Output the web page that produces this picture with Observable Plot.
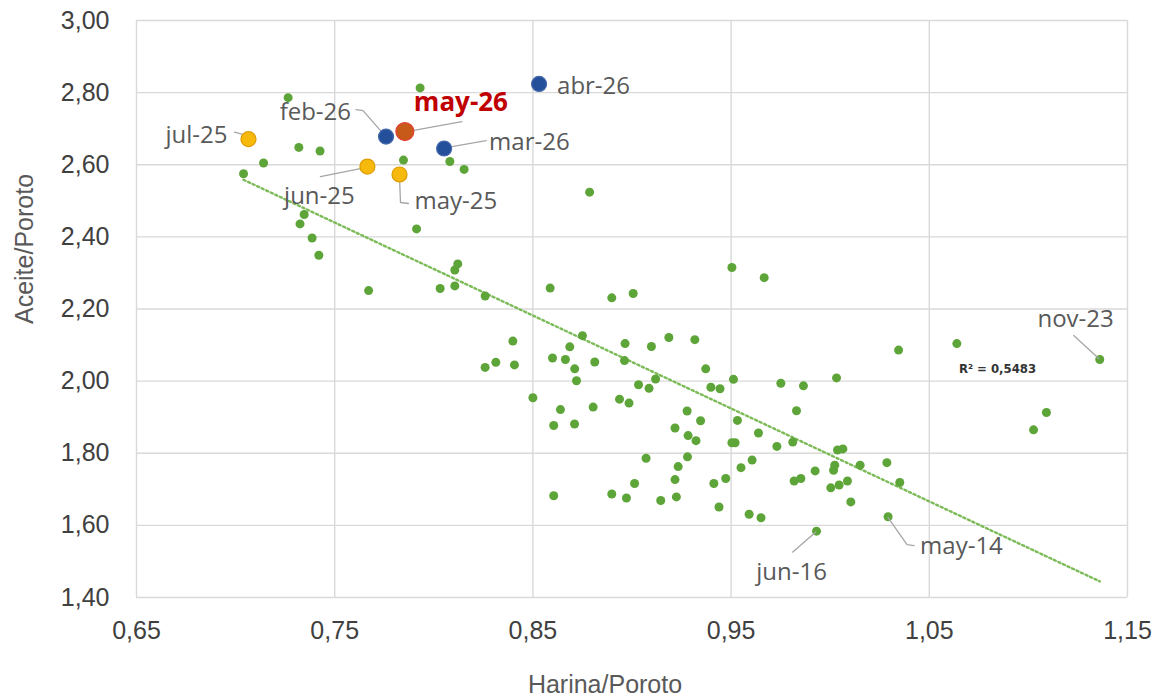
<!DOCTYPE html>
<html><head><meta charset="utf-8">
<script src="https://cdn.jsdelivr.net/npm/d3@7"></script>
<script src="https://cdn.jsdelivr.net/npm/@observablehq/plot@0.6"></script>
<style>html,body{margin:0;padding:0;background:#fff}</style>
</head><body><div id="chart"></div>
<script>
// ---- DATA ----
const harina = [0.7265,0.7931,0.7319,0.7426,0.7141,0.7040,0.7847,0.8081,0.8153,0.7346,0.7325,0.7386,0.7420,0.7913,0.8121,0.8106,0.7671,0.8032,0.8106,0.8259,0.8587,0.8786,0.8898,0.9006,0.9504,0.9667,0.8399,0.8259,0.8313,0.8407,0.8750,0.8686,0.8599,0.8664,0.8711,0.8720,0.8812,0.8965,0.8962,0.9098,0.9186,0.9317,0.9372,0.9398,0.9444,0.9512,0.9751,0.9119,0.9033,0.9086,0.8500,0.8639,0.8804,0.8937,0.8985,0.8605,0.8710,0.9278,0.9346,0.9532,0.9638,0.9830,0.9217,0.9283,0.9323,0.9504,0.9520,0.9731,0.9811,0.9071,0.9280,0.9233,0.9606,0.9550,0.9924,0.9818,0.9852,0.9217,0.9013,0.9413,0.9473,0.8898,0.8972,0.8605,0.9145,0.9224,0.9439,0.9591,0.9651,1.0345,1.0639,1.0032,0.9865,1.1091,1.1026,1.0037,1.0064,1.0023,1.0017,1.0151,1.0286,1.0351,1.0003,1.0045,1.0087,1.0104];
const aceite = [2.786,2.813,2.648,2.638,2.605,2.575,2.613,2.609,2.587,2.462,2.436,2.397,2.349,2.422,2.325,2.308,2.251,2.257,2.264,2.236,2.258,2.524,2.231,2.243,2.315,2.287,2.111,2.038,2.052,2.045,2.126,2.095,2.064,2.060,2.034,2.001,2.053,2.104,2.057,2.096,2.121,2.115,2.034,1.983,1.979,2.005,1.994,2.006,1.990,1.980,1.954,1.921,1.928,1.950,1.939,1.877,1.881,1.917,1.890,1.891,1.856,1.918,1.870,1.849,1.835,1.829,1.829,1.819,1.831,1.786,1.790,1.763,1.781,1.760,1.751,1.723,1.730,1.727,1.716,1.716,1.730,1.687,1.676,1.682,1.669,1.679,1.651,1.631,1.621,2.086,2.104,2.009,1.987,1.913,1.865,1.809,1.812,1.767,1.753,1.767,1.774,1.719,1.704,1.712,1.723,1.665];

// named historical points (same green series)
const namedNames  = ["jun-16","nov-23","may-14"];
const namedHarina = [0.9931,1.1360,1.0292];
const namedAceite = [1.584,2.060,1.624];

// highlighted recent months
const hiNames  = ["jul-25","jun-25","may-25","feb-26","mar-26","abr-26","may-26"];
const hiHarina = [0.7065,0.7665,0.7827,0.7759,0.8052,0.8531,0.7854];
const hiAceite = [2.671,2.595,2.573,2.678,2.645,2.824,2.692];
const hiGroup  = ["2025","2025","2025","2026","2026","2026","actual"];

const xTicks = [0.65,0.75,0.85,0.95,1.05,1.15];
const yTicks = [1.40,1.60,1.80,2.00,2.20,2.40,2.60,2.80,3.00];
const xTitle = "Harina/Poroto";
const yTitle = "Aceite/Poroto";
const r2Label = "R² = 0,5483";

// ---- LAYOUT / STYLE (pixel offsets relative to points) ----
const W = 1156, H = 699;
const M = {left:136, right:29, top:20, bottom:102};
const labelLayout = {
  "jul-25": {dx:-21, dy:-4,  anchor:"end",    leader:[[-14,-7],[-3,-4]]},
  "feb-26": {dx:-35, dy:-24, anchor:"end",    leader:[[-30,-27],[-23,-26],[-2,-2]]},
  "may-26": {dx:9,   dy:-29, anchor:"start",  leader:[[57,-10],[2,0]], bold:true},
  "mar-26": {dx:45,  dy:-6,  anchor:"start",  leader:[[42,-8],[2,-1]]},
  "abr-26": {dx:18,  dy:2,   anchor:"start",  leader:null},
  "jun-25": {dx:-48, dy:30,  anchor:"middle", leader:[[-47,10],[-2,1]]},
  "may-25": {dx:15,  dy:27,  anchor:"start",  leader:[[0,3],[1,28],[9,29]]},
  "nov-23": {dx:14,  dy:-40, anchor:"end",    leader:[[-26,-24],[-1,-1]]},
  "may-14": {dx:32,  dy:30,  anchor:"start",  leader:[[0,1],[19,28],[26,29]]},
  "jun-16": {dx:-25, dy:41,  anchor:"middle", leader:[[-24,21],[-1,1]]}
};
const colors = {
  green:"#5ea539", trend:"#7cbb58",
  "2025":{fill:"#f7b90c", stroke:"#dd9c00"},
  "2026":{fill:"#24509b", stroke:"#4668ab"},
  "actual":{fill:"#c75a18", stroke:"#e4403a"}
};
const radius = {"2025":7.5, "2026":7.5, "actual":9};

// ---- BUILD ----
const green = harina.map((h,i)=>({x:h, y:aceite[i]}))
  .concat(namedNames.map((n,i)=>({x:namedHarina[i], y:namedAceite[i], name:n})));
const hi = hiNames.map((n,i)=>({name:n, x:hiHarina[i], y:hiAceite[i], group:hiGroup[i]}));
const labeled = hi.concat(green.filter(d=>d.name));
const allPts = green.concat(hi);

const xDomain = [xTicks[0], xTicks[xTicks.length-1]];
const yDomain = [yTicks[0], yTicks[yTicks.length-1]];
const sx = d3.scaleLinear(xDomain, [M.left, W-M.right]);
const sy = d3.scaleLinear(yDomain, [H-M.bottom, M.top]);

const leaders = [];
labeled.forEach(d=>{
  const L = labelLayout[d.name];
  if (!L || !L.leader) return;
  L.leader.forEach(([ox,oy],k)=>{
    leaders.push({name:d.name, k, x:sx.invert(sx(d.x)+ox), y:sy.invert(sy(d.y)+oy)});
  });
});

const fmt = d => d.toFixed(2).replace(".", ",");

const labelMarks = labeled.map(d=>{
  const L = labelLayout[d.name];
  return Plot.text([d], {
    x:"x", y:"y", text:"name", dx:L.dx, dy:L.dy, textAnchor:L.anchor,
    lineAnchor:"middle",
    fill: L.bold ? "#c00000" : "#595959",
    fontWeight: L.bold ? "bold" : "normal",
    fontSize: L.bold ? 26 : 24,
    fontFamily: "Open Sans"
  });
});

const hiMarks = ["2025","2026","actual"].map(g =>
  Plot.dot(hi.filter(d=>d.group===g), {x:"x", y:"y", r:radius[g], fill:colors[g].fill, stroke:colors[g].stroke, strokeWidth:1.2})
);

const chart = Plot.plot({
  width:W, height:H,
  marginLeft:M.left, marginRight:M.right, marginTop:M.top, marginBottom:M.bottom,
  style:{fontFamily:"Liberation Sans", fontSize:"25px", color:"#404040", background:"#fff", overflow:"visible"},
  x:{domain:xDomain},
  y:{domain:yDomain},
  marks:[
    Plot.ruleX(xTicks, {stroke:"#d9d9d9", strokeWidth:1.4}),
    Plot.ruleY(yTicks, {stroke:"#d9d9d9", strokeWidth:1.4}),
    Plot.axisX({ticks:xTicks, tickFormat:fmt, tickSize:0, tickPadding:24, label:null, fontSize:25, fill:"#404040"}),
    Plot.axisY({ticks:yTicks, tickFormat:fmt, tickSize:0, tickPadding:27, label:null, fontSize:25, fill:"#404040"}),
    Plot.linearRegressionY(allPts, {x:"x", y:"y", ci:0, stroke:colors.trend, strokeWidth:2.4, strokeDasharray:"2.2,2.8"}),
    Plot.dot(green, {x:"x", y:"y", r:4.5, fill:colors.green}),
    Plot.line(leaders, {x:"x", y:"y", z:"name", stroke:"#a6a6a6", strokeWidth:1.3}),
    ...hiMarks,
    ...labelMarks,
    Plot.text([r2Label], {frameAnchor:"top-right", dx:-130, dy:348, text:d=>d, textAnchor:"middle", lineAnchor:"middle", fontFamily:"'DejaVu Sans Condensed', 'Liberation Sans', sans-serif", fontWeight:"bold", fontSize:13, fill:"#333"}),
    Plot.text([xTitle], {frameAnchor:"bottom", dx:-27, dy:87, text:d=>d, textAnchor:"middle", lineAnchor:"middle", fontSize:25, fill:"#595959"}),
    Plot.text([yTitle], {frameAnchor:"left", dx:-112, dy:-60, rotate:-90, text:d=>d, textAnchor:"middle", lineAnchor:"middle", fontSize:25, fill:"#595959"})
  ]
});
document.getElementById("chart").appendChild(chart);
</script>
</body></html>
